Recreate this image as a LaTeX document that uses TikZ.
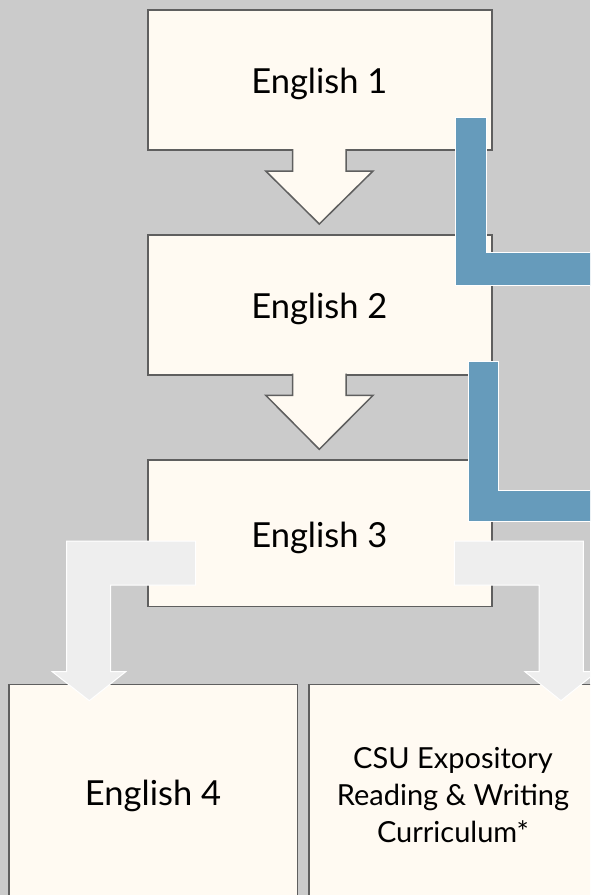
\documentclass[tikz,border=0pt]{standalone}
\usepackage{fontspec}
\setmainfont{Lato}
\definecolor{bgc}{HTML}{CBCBCB}
\definecolor{cream}{HTML}{FFFAF2}
\definecolor{edge}{HTML}{5F5F5F}
\definecolor{blueL}{HTML}{669BBB}
\definecolor{lightarr}{HTML}{EEEEEE}
\begin{document}
\begin{tikzpicture}[x=1pt,y=-1pt,
  box/.style={draw=edge, fill=cream, line width=1.5pt, rectangle, inner sep=0pt,
    anchor=north west},
  bigtext/.style={anchor=base, inner sep=0pt, font=\fontsize{34.5}{40}\selectfont},
  smalltext/.style={anchor=base, inner sep=0pt, align=center, font=\fontsize{29}{37}\selectfont},
  downfill/.style={fill=cream},
  downline/.style={draw=edge, line width=1.5pt},
  bluebar/.style={fill=blueL, draw=white, line width=1pt},
  grayarr/.style={fill=lightarr, draw=white, line width=1pt}]
\useasboundingbox (0,0) rectangle (590,895);
\clip (0,0) rectangle (590,895);
\fill[bgc] (0,0) rectangle (590,895);
% main boxes
\node[box, minimum width=344pt, minimum height=140pt] (b1) at (147,9) {};
\node[box, minimum width=344pt, minimum height=140pt] (b2) at (147,234) {};
\node[box, minimum width=344pt, minimum height=146.7pt] (b3) at (147,459) {};
\node[bigtext] (t1) at (319.3,93.3) {English 1};
\node[bigtext] (t2) at (319.3,318.3) {English 2};
\node[bigtext] (t3) at (319.3,547.3) {English 3};
% down arrows
\fill[downfill] (292.7,140) -- (292.7,171) -- (265.7,171) -- (319.3,224) -- (373,171) -- (346,171) -- (346,140) -- cycle;
\draw[downline] (292.7,149) -- (292.7,171) -- (265.7,171) -- (319.3,224) -- (373,171) -- (346,171) -- (346,149);
\fill[downfill] (292.7,365) -- (292.7,395.3) -- (265.7,395.3) -- (319.3,449.3) -- (373,395.3) -- (346,395.3) -- (346,365) -- cycle;
\draw[downline] (292.7,373.7) -- (292.7,395.3) -- (265.7,395.3) -- (319.3,449.3) -- (373,395.3) -- (346,395.3) -- (346,373.7);
% blue L shapes
\filldraw[bluebar] (455,117.7) -- (486,117.7) -- (486,252.7) -- (600,252.7) -- (600,285.7) -- (455,285.7) -- cycle;
\filldraw[bluebar] (468.3,361) -- (498.7,361) -- (498.7,490) -- (600,490) -- (600,521) -- (468.3,521) -- cycle;
% bottom boxes
\node[box, minimum width=288.7pt, minimum height=220pt] (b4) at (8,683.7) {};
\node[box, minimum width=289.7pt, minimum height=220pt] (b5) at (308.3,683.7) {};
\node[bigtext] (t4) at (153,805) {English 4};
\node[smalltext] (t5) at (453,842) {CSU Expository\\Reading \& Writing\\Curriculum*};
% light gray bent arrows
\filldraw[grayarr] (195.7,541) -- (66.7,541) -- (66.7,671.7) -- (52.3,671.7) -- (89.3,700.7) -- (125.7,671.7) -- (110.7,671.7) -- (110.7,585) -- (195.7,585) -- cycle;
\filldraw[grayarr] (454.3,541) -- (583.3,541) -- (583.3,671.7) -- (597,671.7) -- (561,700.7) -- (525,671.7) -- (539,671.7) -- (539,585) -- (454.3,585) -- cycle;
\end{tikzpicture}
\end{document}
